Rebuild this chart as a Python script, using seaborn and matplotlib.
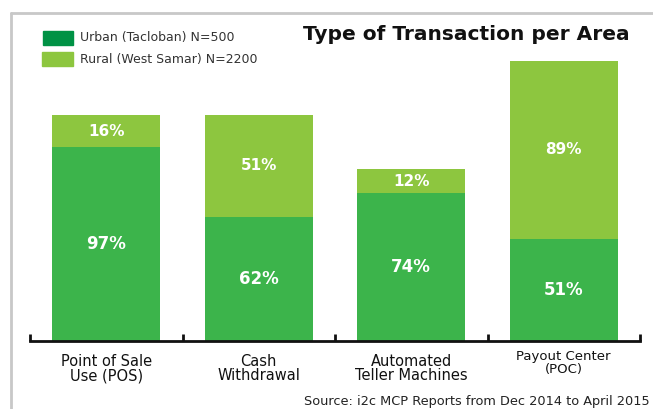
import matplotlib
matplotlib.use('Agg')
import matplotlib.pyplot as plt
import matplotlib.patches as mpatches
from matplotlib.lines import Line2D
import seaborn as sns
import pandas as pd

categories = ['Point of Sale\nUse (POS)', 'Cash\nWithdrawal', 'Automated\nTeller Machines', 'Payout Center\n(POC)']
urban = [97, 62, 74, 51]
rural = [16, 51, 12, 89]
series_names = ['Urban (Tacloban) N=500', 'Rural (West Samar) N=2200']
title = 'Type of Transaction per Area'
source = 'Source: i2c MCP Reports from Dec 2014 to April 2015'

c_urban = '#3cb44b'
c_rural = '#8dc63f'
c_urban_leg = '#009245'

sns.set_style('white')
plt.rcParams['font.family'] = ['DejaVu Sans']

df = pd.DataFrame({'cat': categories, 'urban': urban, 'rural': rural})
df['total'] = df['urban'] + df['rural']

fig = plt.figure(figsize=(6.53, 4.09), dpi=100)
W, H = 653, 409
ax = fig.add_axes([30 / W, (H - 341) / H, 610 / W, 301 / H])

sns.barplot(data=df, x='cat', y='total', color=c_rural, width=0.71, saturation=1, linewidth=0, ax=ax)
sns.barplot(data=df, x='cat', y='urban', color=c_urban, width=0.71, saturation=1, linewidth=0, ax=ax)

ax.set_xlim(-0.5, 3.5)
ax.set_ylim(0, 150.5)
ax.set_xlabel('')
ax.set_ylabel('')
ax.set_yticks([])
ax.set_xticks([])
for s in ['top', 'right', 'left']:
    ax.spines[s].set_visible(False)
ax.spines['bottom'].set_linewidth(2)
ax.spines['bottom'].set_color('#111111')
ax.set_xticks([-0.5, 0.5, 1.5, 2.5, 3.5], minor=True)
ax.tick_params(axis='x', which='minor', bottom=True, direction='in', length=5, width=2, color='#111111')

# segment labels
for i in range(len(categories)):
    ax.text(i, urban[i] / 2, f'{urban[i]}%', ha='center', va='center',
            color='white', fontsize=12, fontweight='bold')
    ax.text(i, urban[i] + rural[i] / 2, f'{rural[i]}%', ha='center', va='center',
            color='white', fontsize=11, fontweight='bold')

# category labels
for i, c in enumerate(categories):
    fs = 9.5 if i == 3 else 10.5
    yoff = -16 if i == 3 else -20
    ax.annotate(c, (i, 0), xytext=(0, yoff), textcoords='offset points',
                ha='center', va='center', fontsize=fs, color='#111111', linespacing=0.95)

# frame
fig.add_artist(Line2D([11 / W, 11 / W], [0, 1 - 13 / H], color='#c8c8c8', lw=2))
fig.add_artist(Line2D([11 / W, 1], [1 - 13 / H, 1 - 13 / H], color='#c8c8c8', lw=2))

# legend
fig.add_artist(mpatches.Rectangle((43 / W, 1 - 45 / H), 30 / W, 14 / H, color=c_urban_leg, transform=fig.transFigure))
fig.add_artist(mpatches.Rectangle((42 / W, 1 - 66 / H), 31 / W, 14 / H, color=c_rural, transform=fig.transFigure))
fig.text(80 / W, 1 - 38 / H, series_names[0], fontsize=9, va='center', color='#333333')
fig.text(80 / W, 1 - 59 / H, series_names[1], fontsize=9, va='center', color='#333333')

fig.text(466 / W, 1 - 34 / H, title, fontsize=14.5, fontweight='bold', ha='center', va='center', color='#111111')
fig.text(650 / W, 1 - 401 / H, source, fontsize=9.3, ha='right', va='center', color='#222222')

fig.savefig('out.png', dpi=100)
